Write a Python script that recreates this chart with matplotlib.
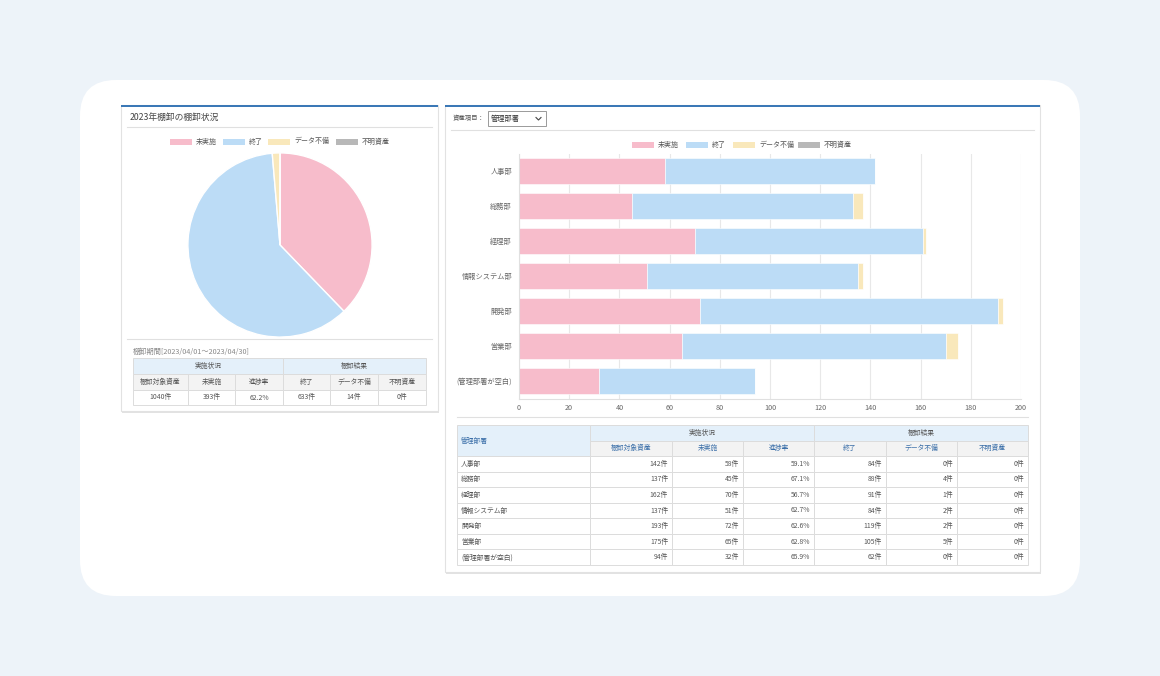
import matplotlib
matplotlib.use("Agg")
import matplotlib.pyplot as plt
from matplotlib.patches import Rectangle, FancyBboxPatch

plt.rcParams['font.family'] = ['Noto Sans CJK JP', 'DejaVu Sans']

# ---------------- data ----------------
series_names = ["未実施", "終了", "データ不備", "不明資産"]
series_colors = ["#f7bccb", "#bcdcf6", "#f9e8bb", "#b8b8b8"]

pie_values = [393, 633, 14, 0]
total_assets = 1040
total_rate = "62.2%"
period_text = "棚卸期間[2023/04/01～2023/04/30]"

depts = ["人事部", "総務部", "経理部", "情報システム部", "開発部", "営業部", "(管理部署が空白)"]
dept_total = [142, 137, 162, 137, 193, 175, 94]
dept_unimpl = [58, 45, 70, 51, 72, 65, 32]
dept_rate = ["59.1%", "67.1%", "56.7%", "62.7%", "62.6%", "62.8%", "65.9%"]
dept_done = [84, 88, 91, 84, 119, 105, 62]
dept_fault = [0, 4, 1, 2, 2, 5, 0]
dept_unknown = [0, 0, 0, 0, 0, 0, 0]
x_ticks = [0, 20, 40, 60, 80, 100, 120, 140, 160, 180, 200]

W, H = 1160, 676
fig = plt.figure(figsize=(W / 100, H / 100), dpi=100)
fig.patch.set_facecolor("#edf3f9")

bg = fig.add_axes([0, 0, 1, 1])
bg.set_xlim(0, W)
bg.set_ylim(H, 0)
bg.axis("off")

def px_axes(x0, y0, x1, y1):
    return fig.add_axes([x0 / W, 1 - y1 / H, (x1 - x0) / W, (y1 - y0) / H])

TXT = "#555555"
LINE = "#e0e0e0"
HDR_BLUE = "#e4f0fa"
HDR_GRAY = "#f3f3f3"
BLUE_TXT = "#3a6ea8"

# outer white rounded panel
bg.add_patch(FancyBboxPatch((80, 80), 1000, 516, boxstyle="round,pad=0,rounding_size=36",
                            facecolor="white", edgecolor="none", zorder=1))

def card(x0, y0, x1, y1):
    bg.add_patch(Rectangle((x0 + 1, y0 + 1.5), x1 - x0, y1 - y0, facecolor="#e3e3e3",
                           edgecolor="none", zorder=2))
    bg.add_patch(Rectangle((x0, y0), x1 - x0, y1 - y0, facecolor="white",
                           edgecolor="#e2e2e2", linewidth=0.8, zorder=3))
    bg.add_patch(Rectangle((x0, y0), x1 - x0, 2, facecolor="#3b78b6", edgecolor="none", zorder=4))

card(121, 105, 438, 411)
card(445, 105, 1040, 572)

def cell(x0, y0, x1, y1, text, face="white", align="center", color=TXT, size=4.9, pad=4):
    bg.add_patch(Rectangle((x0, y0), x1 - x0, y1 - y0, facecolor=face, edgecolor="#dcdcdc",
                           linewidth=0.7, zorder=5))
    if align == "center":
        tx, ha = (x0 + x1) / 2, "center"
    elif align == "left":
        tx, ha = x0 + pad, "left"
    else:
        tx, ha = x1 - pad, "right"
    bg.text(tx, (y0 + y1) / 2, text, ha=ha, va="center", fontsize=size, color=color, zorder=6)

# ---------------- left card ----------------
bg.text(130, 117, "2023年棚卸の棚卸状況", fontsize=6.3, color="#444444", va="center", zorder=6)
bg.plot([127, 432], [126.5, 126.5], color=LINE, lw=0.8, zorder=5)

def legend(xs, y):
    for (px, tx), name, col in zip(xs, series_names, series_colors):
        bg.add_patch(Rectangle((px, y - 3), 22, 6, facecolor=col, edgecolor="none", zorder=6))
        bg.text(tx, y, name, fontsize=5, color=TXT, va="center", ha="left", zorder=6)

legend([(170, 196), (223, 249), (268, 294), (336, 362)], 141.5)

pie_ax = px_axes(187, 152, 373, 338)
pie_ax.pie(pie_values, colors=series_colors, startangle=90, counterclock=False,
           wedgeprops=dict(edgecolor="white", linewidth=1.0))
pie_ax.set_aspect("equal")
pie_ax.set_xlim(-1.01, 1.01)
pie_ax.set_ylim(-1.01, 1.01)

bg.plot([127, 432], [338.5, 338.5], color=LINE, lw=0.8, zorder=5)
bg.text(133, 352, period_text, fontsize=5.2, color="#888888", va="center", zorder=6)

lc = [133, 188, 235, 283, 330, 378, 426]
ly = [358, 374, 390, 405]
cell(lc[0], ly[0], lc[3], ly[1], "実施状況", face=HDR_BLUE)
cell(lc[3], ly[0], lc[6], ly[1], "棚卸結果", face=HDR_BLUE)
left_heads = ["棚卸対象資産", "未実施", "進捗率", "終了", "データ不備", "不明資産"]
left_vals = [f"{total_assets}件", f"{pie_values[0]}件", total_rate,
             f"{pie_values[1]}件", f"{pie_values[2]}件", f"{pie_values[3]}件"]
for i in range(6):
    cell(lc[i], ly[1], lc[i + 1], ly[2], left_heads[i], face=HDR_GRAY)
    cell(lc[i], ly[2], lc[i + 1], ly[3], left_vals[i])

# ---------------- right card ----------------
bg.text(453, 118.5, "資産項目：", fontsize=4.6, color=TXT, va="center", zorder=6)
bg.add_patch(Rectangle((488, 111), 58, 15, facecolor="white", edgecolor="#9a9a9a",
                       linewidth=0.7, zorder=6))
bg.text(491, 118.5, "管理部署", fontsize=5.2, color="#333333", va="center", zorder=7)
bg.plot([536, 538.5, 541], [117.5, 120, 117.5], color="#444444", lw=0.8, zorder=7)
bg.plot([451, 1034], [129.5, 129.5], color=LINE, lw=0.8, zorder=5)

legend([(632, 658), (686, 712), (733, 759), (798, 824)], 145)

bar_ax = px_axes(519, 153.5, 1021, 398.5)
bar_ax.set_facecolor("none")
left = [0] * len(depts)
for vals, col in zip([dept_unimpl, dept_done, dept_fault, dept_unknown], series_colors):
    bar_ax.barh(range(len(depts)), vals, left=left, height=0.72, color=col,
                edgecolor="white", linewidth=0.4, zorder=3)
    left = [a + b for a, b in zip(left, vals)]
bar_ax.set_ylim(len(depts) - 0.5, -0.5)
bar_ax.set_xlim(0, 200)
bar_ax.set_xticks(x_ticks)
bar_ax.set_xticklabels([str(t) for t in x_ticks])
bar_ax.set_yticks(range(len(depts)))
bar_ax.set_yticklabels(depts)
bar_ax.grid(axis="x", color="#e8e8e8", linewidth=0.8, zorder=0)
for s in ["top", "right"]:
    bar_ax.spines[s].set_visible(False)
bar_ax.spines["left"].set_color("#e0e0e0")
bar_ax.spines["bottom"].set_color("#e0e0e0")
bar_ax.tick_params(axis="both", length=0, labelsize=5.2, labelcolor="#666666", pad=5)
bar_ax.tick_params(axis="x", pad=4)
bar_ax.spines["left"].set_zorder(4)

bg.plot([457, 1028], [416.5, 416.5], color=LINE, lw=0.8, zorder=5)

rc = [457, 590, 672, 743, 814, 886, 957, 1028]
hy = [425, 440.5, 456]
row_h = (565 - 456) / len(depts)
cell(rc[0], hy[0], rc[1], hy[2], "管理部署", face=HDR_BLUE, align="left", color=BLUE_TXT)
cell(rc[1], hy[0], rc[4], hy[1], "実施状況", face=HDR_BLUE)
cell(rc[4], hy[0], rc[7], hy[1], "棚卸結果", face=HDR_BLUE)
right_heads = ["棚卸対象資産", "未実施", "進捗率", "終了", "データ不備", "不明資産"]
for i, h in enumerate(right_heads):
    cell(rc[i + 1], hy[1], rc[i + 2], hy[2], h, face=HDR_GRAY, color=BLUE_TXT)

for r, d in enumerate(depts):
    y0 = hy[2] + r * row_h
    y1 = y0 + row_h
    vals = [f"{dept_total[r]}件", f"{dept_unimpl[r]}件", dept_rate[r],
            f"{dept_done[r]}件", f"{dept_fault[r]}件", f"{dept_unknown[r]}件"]
    cell(rc[0], y0, rc[1], y1, d, align="left")
    for i, v in enumerate(vals):
        cell(rc[i + 1], y0, rc[i + 2], y1, v, align="right")

fig.savefig("out.png", dpi=100, facecolor=fig.get_facecolor())
